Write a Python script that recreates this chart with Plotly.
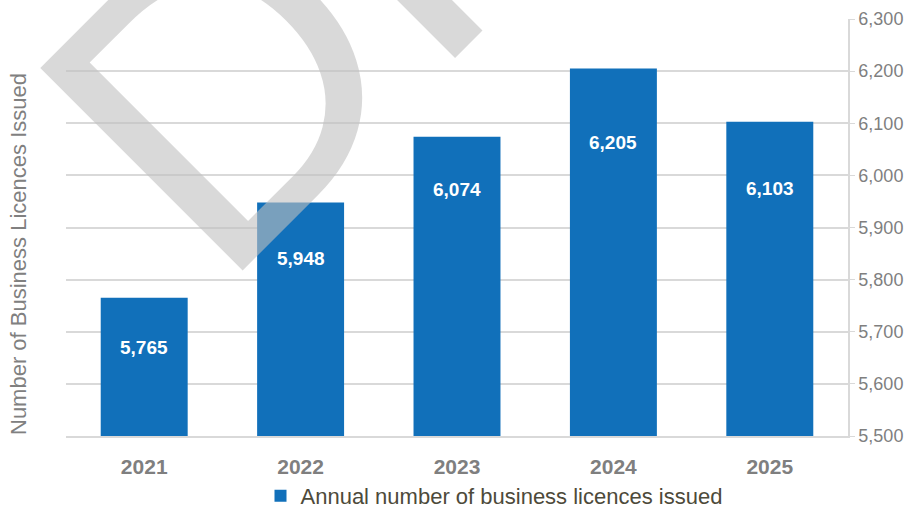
import plotly.graph_objects as go

years = ["2021", "2022", "2023", "2024", "2025"]
licences = [5765, 5948, 6074, 6205, 6103]
label_shift = [-50, -56, -53, -74, -67]
y_ticks = [5500, 5600, 5700, 5800, 5900, 6000, 6100, 6200, 6300]
series_name = "Annual number of business licences issued"
y_title = "Number of Business Licences Issued"

W, H = 915, 508
L, R, T, B = 66, 67, 19, 72
pw, ph = W - L - R, H - T - B

def px_to_paper(px, py):
    return (px - L) / pw, (H - B - py) / ph

BAR = "#1170BA"
GRID = "#d9d9d9"

fig = go.Figure()
fig.add_trace(go.Bar(
    x=years, y=licences, name=series_name,
    marker=dict(color=BAR, line=dict(width=0)),
    showlegend=True,
))

annotations = []
wx, wy = px_to_paper(606, -298)
annotations.append(dict(
    text="DRAFT", xref="paper", yref="paper", x=wx, y=wy,
    xanchor="center", yanchor="middle", textangle=-45, showarrow=False,
    font=dict(family="Arial, Liberation Sans", size=416, color="rgba(191,191,191,0.6)"),
))
for i, (v, s) in enumerate(zip(licences, label_shift)):
    annotations.append(dict(
        x=i, y=v, xref="x", yref="y", yshift=s, showarrow=False,
        text=f"{v:,}", xanchor="center", yanchor="middle",
        font=dict(family="Arial, Liberation Sans", size=19, color="white", weight="bold"),
    ))
tx, ty = px_to_paper(18, 254)
annotations.append(dict(
    text=y_title, xref="paper", yref="paper", x=tx, y=ty, textangle=-90,
    xanchor="center", yanchor="middle", showarrow=False,
    font=dict(family="Arial, Liberation Sans", size=22, color="#808080"),
))

fig.update_layout(
    width=W, height=H,
    margin=dict(l=L, r=R, t=T, b=B, pad=0, autoexpand=False),
    paper_bgcolor="white", plot_bgcolor="white",
    bargap=0.444,
    font=dict(family="Arial, Liberation Sans"),
    annotations=annotations,
    showlegend=True,
    legend=dict(
        orientation="h", x=0.5 + 37 / pw, xanchor="center",
        yref="container", y=(H - 496) / H, yanchor="middle",
        font=dict(size=22, color="#4d4a3a"), itemwidth=30,
        bgcolor="rgba(0,0,0,0)",
    ),
    xaxis=dict(
        type="category", range=[-0.5, len(years) - 0.5], autorange=False,
        showline=True, linecolor=GRID, linewidth=2,
        ticks="outside", tickcolor="rgba(0,0,0,0)", ticklen=11,
        tickfont=dict(size=21, color="#7f7f7f", weight="bold"),
        showgrid=False, fixedrange=True,
    ),
    yaxis=dict(
        side="right", range=[5500, 6300], autorange=False, tickvals=y_ticks,
        tickformat=",", showgrid=True, gridcolor=GRID, gridwidth=1.5,
        showline=True, linecolor=GRID, linewidth=1.5,
        ticks="outside", tickcolor=GRID, ticklen=5,
        tickfont=dict(size=18, color="#7f7f7f"),
        zeroline=False, fixedrange=True,
    ),
)

fig.write_html("out.html")
